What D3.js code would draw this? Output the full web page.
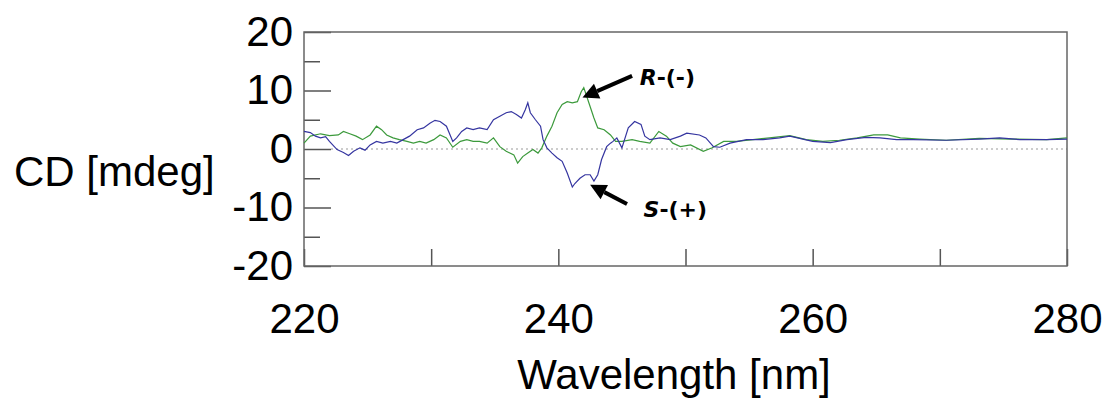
<!DOCTYPE html>
<html>
<head>
<meta charset="utf-8">
<script src="https://cdn.jsdelivr.net/npm/d3@7"></script>
<style>
  body { margin: 0; background: #fff; }
  text { font-family: "Liberation Sans", Arial, sans-serif; fill: #000; }
  .tag { font-family: "DejaVu Sans", Verdana, sans-serif; font-weight: bold; }
</style>
</head>
<body>
<div id="chart"></div>
<script>
// S-(+) enantiomer (blue trace)
const blueNm = [220.0, 220.5, 220.9, 221.3, 221.7, 222.0, 222.6, 223.1, 223.5, 223.9, 224.4, 224.8, 225.2, 225.7, 226.2,
  226.8, 227.3, 227.8, 228.3, 228.9, 229.4, 229.9, 230.3, 230.7, 231.2, 231.7, 232.0, 232.4, 232.8, 233.3, 233.8, 234.4,
  234.9, 235.4, 235.9, 236.3, 236.7, 237.1, 237.4, 237.6, 237.8, 238.2, 238.6, 238.8, 239.1, 239.5, 239.9, 240.3, 240.7,
  241.1, 241.3, 241.7, 242.1, 242.5, 242.8, 243.1, 243.4, 243.8, 244.1, 244.3, 244.6, 245.0, 245.5, 246.0, 246.5, 246.8,
  247.2, 248.0, 248.8, 249.6, 250.1, 251.1, 251.6, 252.2, 252.7, 253.5, 254.8, 256.1, 257.4, 258.2, 260.0, 261.4, 262.7,
  264.2, 265.3, 266.6, 267.9, 270.5, 273.1, 274.7, 276.3, 278.4, 280.0];
const blueCD = [3.0, 2.8, 2.2, 1.9, 2.1, 1.3, -0.1, -0.6, -1.1, -0.4, 0.2, -0.2, 0.7, 1.3, 1.0,
  1.3, 1.0, 1.6, 2.2, 3.3, 3.6, 4.4, 4.9, 4.7, 3.9, 1.3, 1.9, 3.0, 3.6, 3.3, 3.6, 3.3,
  5.0, 5.6, 6.2, 6.4, 5.9, 5.3, 6.7, 7.9, 6.2, 5.0, 3.9, 1.6, 0.2, -0.7, -1.5, -2.1, -4.1,
  -6.5, -5.9, -5.0, -4.4, -4.4, -5.5, -4.4, -1.8, 0.4, 1.0, 1.3, 1.9, 0.2, 3.6, 4.7, 4.2, 2.2,
  1.6, 1.9, 1.6, 2.2, 2.7, 2.4, 1.9, 0.4, 0.3, 1.0, 1.6, 1.6, 1.9, 2.2, 1.3, 1.1, 1.6,
  2.0, 1.9, 1.6, 1.6, 1.5, 1.7, 1.9, 1.6, 1.6, 1.7];

// R-(-) enantiomer (green trace)
const greenNm = [220.0, 220.5, 221.3, 222.0, 222.7, 223.1, 223.6, 224.1, 224.6, 225.2, 225.7, 226.1, 226.5, 227.0, 227.5,
  228.1, 228.6, 229.1, 229.6, 230.2, 230.7, 231.2, 231.7, 232.3, 232.8, 233.3, 233.8, 234.4, 234.9, 235.4, 235.9, 236.5,
  236.8, 237.2, 237.6, 238.0, 238.4, 238.7, 239.1, 239.5, 239.9, 240.3, 240.7, 241.1, 241.5, 241.8, 242.0, 242.2, 242.4,
  242.8, 243.1, 243.6, 244.1, 244.5, 245.0, 245.8, 246.4, 247.2, 247.9, 248.5, 249.0, 249.6, 250.4, 251.4, 252.1, 253.0,
  254.0, 255.3, 256.6, 258.2, 259.5, 260.8, 262.1, 263.5, 264.8, 265.9, 266.9, 268.4, 270.5, 273.1, 275.7, 278.4, 280.0];
const greenCD = [1.0, 2.2, 2.6, 2.3, 2.4, 3.0, 2.6, 2.2, 1.6, 2.4, 3.9, 3.3, 2.4, 1.9, 1.6,
  1.3, 1.0, 1.3, 1.0, 1.6, 2.4, 1.9, 0.3, 1.3, 1.6, 1.3, 1.3, 1.0, 1.9, 0.4, -0.4, -1.0,
  -2.4, -1.3, -0.7, -0.1, -0.7, 0.2, 2.2, 3.9, 6.2, 7.6, 8.1, 7.9, 8.1, 9.8, 10.5, 9.2, 7.9,
  5.3, 3.6, 3.3, 2.4, 1.3, 1.3, 1.6, 1.3, 1.0, 3.0, 2.2, 1.0, 0.4, 0.7, -0.4, 0.2, 1.3,
  1.3, 1.6, 1.9, 2.3, 1.6, 1.3, 1.5, 1.9, 2.4, 2.4, 1.9, 1.7, 1.5, 1.8, 1.7, 1.6, 1.9];

const xTicks = [220, 230, 240, 250, 260, 270, 280];
const xLabels = [220, 240, 260, 280];
const yTicks = [-20, -10, 0, 10, 20];
const yMinor = [-15, -5, 5, 15];

const svgW = 1106, svgH = 398;
const margin = { top: 32, right: 39, bottom: 132, left: 304 };
const width = svgW - margin.left - margin.right;
const height = svgH - margin.top - margin.bottom;

const svg = d3.select("#chart").append("svg").attr("width", svgW).attr("height", svgH);
const g = svg.append("g").attr("transform", "translate(" + margin.left + "," + margin.top + ")");

const x = d3.scaleLinear().domain([220, 280]).range([0, width]);
const y = d3.scaleLinear().domain([-20, 20]).range([height, 0]);

// zero reference line (dotted)
g.append("line")
  .attr("x1", 27).attr("x2", width)
  .attr("y1", y(0)).attr("y2", y(0))
  .attr("stroke", "#9a9a9a").attr("stroke-width", 1.2).attr("stroke-dasharray", "2,3");

// y axis: major ticks inward, labels outside (plain hyphen for negatives)
const yAxis = g.append("g")
  .call(d3.axisLeft(y).tickValues(yTicks).tickSizeInner(-27).tickSizeOuter(0).tickPadding(11)
    .tickFormat(function(d) { return String(d); }));
yAxis.select(".domain").remove();
yAxis.selectAll("line").attr("stroke", "#555").attr("stroke-width", 1.5);
yAxis.selectAll("text").attr("font-size", 42).attr("font-family", "Liberation Sans, Arial, sans-serif").attr("fill", "#000");

const yMinorAxis = g.append("g")
  .call(d3.axisLeft(y).tickValues(yMinor).tickSizeInner(-16).tickSizeOuter(0).tickFormat(""));
yMinorAxis.select(".domain").remove();
yMinorAxis.selectAll("line").attr("stroke", "#555").attr("stroke-width", 1.5);

// x axis: ticks inward from bottom
const xAxis = g.append("g")
  .attr("transform", "translate(0," + height + ")")
  .call(d3.axisBottom(x).tickValues(xTicks).tickSizeInner(-17).tickSizeOuter(0).tickPadding(37)
    .tickFormat(function(d) { return xLabels.indexOf(d) >= 0 ? String(d) : ""; }));
xAxis.select(".domain").remove();
xAxis.selectAll("line").attr("stroke", "#555").attr("stroke-width", 1.5);
xAxis.selectAll("text").attr("font-size", 42).attr("font-family", "Liberation Sans, Arial, sans-serif").attr("fill", "#000");

// frame
g.append("rect")
  .attr("width", width).attr("height", height)
  .attr("fill", "none").attr("stroke", "#666").attr("stroke-width", 1.5);

// traces
const line = d3.line().x(function(d) { return x(d[0]); }).y(function(d) { return y(d[1]); });
g.append("path").datum(d3.zip(greenNm, greenCD))
  .attr("fill", "none").attr("stroke", "#3c9a3c").attr("stroke-width", 1.2).attr("d", line);
g.append("path").datum(d3.zip(blueNm, blueCD))
  .attr("fill", "none").attr("stroke", "#3535a0").attr("stroke-width", 1.2).attr("d", line);

// annotation arrows
function arrow(x1, y1, x2, y2) {
  const ang = Math.atan2(y2 - y1, x2 - x1);
  const headLen = 16, headW = 8;
  const bx = x2 - headLen * Math.cos(ang), by = y2 - headLen * Math.sin(ang);
  g.append("line").attr("x1", x1).attr("y1", y1).attr("x2", bx).attr("y2", by)
    .attr("stroke", "#000").attr("stroke-width", 4);
  const px = -Math.sin(ang) * headW, py = Math.cos(ang) * headW;
  g.append("path")
    .attr("d", "M" + x2 + "," + y2 + "L" + (bx + px) + "," + (by + py) + "L" + (bx - px) + "," + (by - py) + "Z")
    .attr("fill", "#000");
}
arrow(x(245.8), y(12.5), x(241.9), y(8.8));
arrow(x(245.4), y(-9.4), x(242.5), y(-6.1));

const rTag = g.append("text").attr("class", "tag").attr("x", x(246.4)).attr("y", y(11.0)).attr("font-size", 22);
rTag.append("tspan").attr("font-style", "italic").text("R");
rTag.append("tspan").text("-(-)");
const sTag = g.append("text").attr("class", "tag").attr("x", x(246.7)).attr("y", y(-11.6)).attr("font-size", 22);
sTag.append("tspan").attr("font-style", "italic").text("S");
sTag.append("tspan").text("-(+)");

// axis titles
svg.append("text").attr("x", 674).attr("y", 389).attr("text-anchor", "middle").attr("font-size", 42).text("Wavelength [nm]");
svg.append("text").attr("x", 14).attr("y", 186).attr("font-size", 42).text("CD [mdeg]");
</script>
</body>
</html>
